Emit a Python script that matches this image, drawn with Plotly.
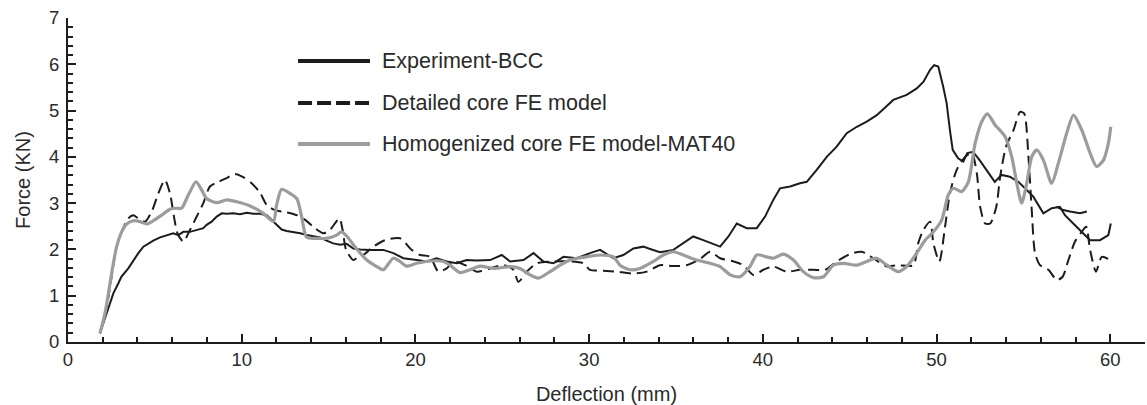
import plotly.graph_objects as go

# Deflection (mm) / force (kN) readings for each curve
exp_defl = [1.84, 2.03, 2.23, 2.42, 2.61, 2.90, 3.07, 3.47, 3.76, 4.05,
            4.34, 4.62, 4.91, 5.30, 5.68, 6.06, 6.35, 6.64, 7.02, 7.41,
            7.79, 7.98, 8.27, 8.56, 8.85, 9.13, 9.52, 9.90, 10.29, 10.67,
            11.05, 11.44, 11.73, 12.01, 12.30, 12.59, 12.97, 13.36, 13.74, 14.12,
            14.51, 14.89, 15.27, 15.66, 16.04, 16.43, 16.81, 17.39, 18.15, 18.73,
            19.30, 20.07, 20.65, 21.22, 21.80, 22.38, 22.95, 23.53, 24.30, 24.97,
            25.45, 26.22, 26.80, 27.37, 27.95, 28.52, 29.29, 30.05, 30.63, 31.40,
            31.97, 32.55, 33.12, 33.51, 34.08, 34.85, 35.42, 35.99, 36.57, 37.06,
            37.54, 38.02, 38.50, 39.07, 39.65, 40.13, 40.60, 40.99, 41.57, 42.14,
            42.53, 43.10, 43.68, 44.25, 44.83, 45.41, 45.98, 46.56, 47.14, 47.51,
            48.28, 48.86, 49.24, 49.63, 49.86, 50.10, 50.38, 50.58, 50.77, 50.93,
            51.24, 51.54, 51.77, 52.10, 52.48, 52.87, 53.35, 53.74, 54.22, 54.71,
            55.19, 55.57, 56.15, 56.63, 57.10, 57.39, 57.87, 58.45, 58.84, 59.41,
            59.89, 60.03]
exp_force = [0.19, 0.40, 0.62, 0.87, 1.05, 1.27, 1.41, 1.59, 1.77, 1.92,
             2.06, 2.13, 2.19, 2.26, 2.30, 2.35, 2.31, 2.38, 2.38, 2.42,
             2.46, 2.53, 2.60, 2.71, 2.78, 2.77, 2.78, 2.76, 2.79, 2.77,
             2.77, 2.74, 2.64, 2.53, 2.43, 2.40, 2.38, 2.35, 2.31, 2.29,
             2.26, 2.19, 2.13, 2.10, 2.12, 2.02, 2.00, 1.99, 1.99, 1.92,
             1.81, 1.77, 1.74, 1.81, 1.74, 1.70, 1.77, 1.76, 1.77, 1.88,
             1.74, 1.77, 1.92, 1.74, 1.70, 1.84, 1.81, 1.92, 1.99, 1.81,
             1.88, 2.02, 2.06, 2.01, 1.94, 1.99, 2.13, 2.28, 2.20, 2.13,
             2.06, 2.28, 2.56, 2.46, 2.46, 2.71, 3.07, 3.32, 3.36, 3.43,
             3.46, 3.72, 4.00, 4.22, 4.51, 4.65, 4.76, 4.90, 5.10, 5.23,
             5.34, 5.48, 5.62, 5.88, 5.98, 5.95, 5.52, 5.16, 4.58, 4.15,
             3.97, 3.90, 4.08, 4.11, 3.93, 3.72, 3.46, 3.61, 3.57, 3.46,
             3.28, 3.14, 2.78, 2.89, 2.92, 2.74, 2.56, 2.35, 2.20, 2.20,
             2.31, 2.56]

# second experimental branch near the end of the test
exp_branch_defl = [56.90, 57.30, 57.68, 58.26, 58.65]
exp_branch_force = [2.92, 2.85, 2.82, 2.78, 2.82]

det_defl = [1.84, 2.23, 2.51, 2.80, 3.18, 3.47, 3.76, 4.05, 4.43, 4.82,
            5.20, 5.58, 5.87, 6.10, 6.30, 6.64, 7.02, 7.41, 7.79, 8.17,
            8.65, 9.13, 9.61, 10.09, 10.57, 11.05, 11.44, 11.92, 12.59, 13.17,
            13.65, 14.22, 14.70, 15.08, 15.62, 15.81, 16.01, 16.43, 16.71, 17.00,
            17.58, 18.25, 19.11, 19.79, 20.27, 20.84, 21.32, 21.80, 22.19, 22.86,
            23.53, 24.30, 25.06, 25.64, 25.93, 26.41, 26.98, 27.94, 28.90, 29.67,
            30.05, 30.82, 31.59, 32.55, 33.32, 34.08, 34.85, 35.61, 36.38, 36.96,
            37.54, 38.31, 38.88, 39.45, 40.03, 40.60, 41.37, 42.14, 42.91, 43.58,
            44.25, 45.02, 45.69, 46.36, 47.14, 47.70, 48.66, 48.94, 49.24, 49.63,
            49.82, 50.16, 50.49, 50.77, 51.16, 51.64, 52.03, 52.32, 52.51, 52.80,
            53.09, 53.44, 53.66, 54.00, 54.43, 54.81, 55.04, 55.29, 55.48, 55.67,
            55.96, 56.44, 56.92, 57.26, 57.59, 57.97, 58.36, 58.61, 58.84, 59.18,
            59.51, 60.05]
det_force = [0.19, 0.77, 1.41, 2.06, 2.46, 2.67, 2.74, 2.67, 2.60, 2.82,
             3.21, 3.50, 3.21, 2.71, 2.35, 2.17, 2.42, 2.71, 3.00, 3.36,
             3.46, 3.54, 3.63, 3.56, 3.43, 3.23, 2.96, 2.85, 2.80, 2.74,
             2.64, 2.46, 2.35, 2.42, 2.67, 2.42, 1.99, 1.77, 1.84, 1.88,
             2.06, 2.20, 2.24, 1.99, 1.88, 1.84, 1.52, 1.59, 1.74, 1.66,
             1.52, 1.59, 1.66, 1.56, 1.30, 1.52, 1.70, 1.74, 1.74, 1.70,
             1.56, 1.54, 1.52, 1.48, 1.52, 1.66, 1.64, 1.66, 1.79, 1.95,
             1.81, 1.74, 1.66, 1.45, 1.56, 1.63, 1.52, 1.56, 1.56, 1.56,
             1.74, 1.90, 1.95, 1.81, 1.63, 1.66, 1.66, 2.13, 2.42, 2.60,
             2.13, 1.74, 2.49, 3.21, 3.72, 4.00, 4.08, 3.64, 2.92, 2.56,
             2.56, 2.92, 3.57, 4.22, 4.58, 4.97, 4.94, 4.00, 2.85, 1.92,
             1.66, 1.56, 1.34, 1.41, 1.77, 2.17, 2.38, 2.49, 1.99, 1.52,
             1.84, 1.76]

hom_defl = [1.84, 2.13, 2.42, 2.61, 2.80, 3.09, 3.38, 3.76, 4.14, 4.53,
            4.91, 5.39, 5.87, 6.25, 6.54, 6.93, 7.37, 7.70, 7.98, 8.56,
            9.13, 9.71, 10.48, 11.24, 11.82, 12.01, 12.30, 12.78, 13.17, 13.45,
            13.74, 14.32, 14.89, 15.47, 15.75, 16.04, 16.43, 16.71, 17.20, 17.77,
            18.15, 18.73, 19.11, 19.50, 20.07, 20.84, 21.61, 21.99, 22.57, 23.14,
            23.72, 24.49, 25.45, 26.02, 26.60, 27.08, 27.75, 28.33, 28.90, 29.67,
            30.63, 31.40, 31.78, 32.36, 32.93, 33.70, 34.27, 34.85, 35.42, 36.19,
            36.96, 37.54, 38.12, 38.69, 39.26, 39.65, 40.22, 40.60, 41.18, 41.76,
            42.33, 42.91, 43.49, 44.06, 44.64, 45.41, 45.98, 46.56, 47.14, 47.80,
            48.28, 48.86, 49.34, 49.82, 50.30, 50.68, 50.97, 51.45, 51.83, 52.22,
            52.60, 52.93, 53.37, 53.94, 54.33, 54.62, 54.90, 55.19, 55.48, 55.77,
            56.15, 56.63, 57.01, 57.49, 57.88, 58.36, 58.84, 59.22, 59.61, 59.89,
            60.03]
hom_force = [0.19, 0.62, 1.27, 1.70, 2.06, 2.38, 2.55, 2.62, 2.60, 2.55,
             2.62, 2.74, 2.87, 2.89, 2.89, 3.18, 3.46, 3.28, 3.10, 3.01,
             3.07, 3.03, 2.94, 2.78, 2.60, 2.96, 3.30, 3.21, 3.10, 2.71,
             2.26, 2.24, 2.24, 2.31, 2.38, 2.29, 2.10, 1.97, 1.77, 1.63,
             1.56, 1.81, 1.74, 1.64, 1.70, 1.75, 1.74, 1.66, 1.50, 1.56,
             1.64, 1.59, 1.63, 1.59, 1.45, 1.38, 1.52, 1.66, 1.77, 1.83,
             1.88, 1.84, 1.66, 1.56, 1.59, 1.74, 1.88, 1.95, 1.88, 1.77,
             1.70, 1.63, 1.45, 1.41, 1.63, 1.88, 1.84, 1.81, 1.90, 1.77,
             1.52, 1.39, 1.41, 1.66, 1.70, 1.66, 1.74, 1.81, 1.66, 1.52,
             1.63, 1.92, 2.20, 2.38, 2.64, 3.18, 3.32, 3.25, 3.46, 4.29,
             4.76, 4.93, 4.69, 4.44, 4.00, 3.43, 3.00, 3.43, 4.00, 4.15,
             3.93, 3.43, 3.86, 4.51, 4.90, 4.58, 4.08, 3.79, 3.93, 4.29,
             4.65]

series_names = ["Experiment-BCC", "Detailed core FE model",
                "Homogenized core FE model-MAT40"]

INK = "#1c1c1c"
GREY = "#9c9c9c"
TEXT = "#2a2a2a"
FONT = "Liberation Sans, Arial, Helvetica, sans-serif"

fig = go.Figure()
fig.add_trace(go.Scatter(x=exp_defl, y=exp_force, mode="lines",
                         line=dict(color=INK, width=2), name=series_names[0]))
fig.add_trace(go.Scatter(x=exp_branch_defl, y=exp_branch_force, mode="lines",
                         line=dict(color=INK, width=2), name=series_names[0]))
# the two FE models are smooth curves
fig.add_trace(go.Scatter(x=det_defl, y=det_force, mode="lines",
                         line=dict(color=INK, width=2, dash="11px,6px",
                                   shape="spline", smoothing=0.7),
                         name=series_names[1]))
fig.add_trace(go.Scatter(x=hom_defl, y=hom_force, mode="lines",
                         line=dict(color=GREY, width=3.2,
                                   shape="spline", smoothing=0.7),
                         name=series_names[2]))

# hand-placed legend: line samples + labels
legend_rows = [(0.867, INK, None), (0.738, INK, "14px,5px"), (0.611, GREY, None)]
for (yp, col, dash), label in zip(legend_rows, series_names):
    fig.add_shape(type="line", xref="paper", yref="paper",
                  x0=0.2136, x1=0.2804, y0=yp, y1=yp,
                  line=dict(color=col, width=4, dash=dash))
    fig.add_annotation(xref="paper", yref="paper", x=0.2897, y=yp,
                       xanchor="left", yanchor="middle", showarrow=False,
                       text=label, font=dict(family=FONT, size=21.5, color=TEXT))

axis_common = dict(
    showline=True, linecolor=INK, linewidth=2,
    ticks="inside", ticklen=8, tickwidth=1.6, tickcolor=INK,
    showgrid=False, zeroline=False,
    tickfont=dict(family=FONT, size=18.5, color=TEXT),
)

fig.update_xaxes(range=[0, 62], tick0=0, dtick=10,
                 minor=dict(dtick=2, ticks="inside", ticklen=5, tickwidth=1.6,
                            tickcolor=INK, showgrid=False),
                 title=dict(text="Deflection (mm)", standoff=18,
                            font=dict(family=FONT, size=20, color=TEXT)),
                 **axis_common)
fig.update_yaxes(range=[0, 7], tick0=0, dtick=1, ticklabelstandoff=3,
                 minor=dict(dtick=0.2, ticks="inside", ticklen=5, tickwidth=1.6,
                            tickcolor=INK, showgrid=False),
                 title=dict(text="Force (KN)", standoff=13,
                            font=dict(family=FONT, size=20, color=TEXT)),
                 **axis_common)

fig.update_layout(width=1147, height=405,
                  margin=dict(l=68, r=2, t=18, b=63),
                  paper_bgcolor="white", plot_bgcolor="white",
                  showlegend=False,
                  font=dict(family=FONT, color=TEXT))

fig.write_html("out.html")
